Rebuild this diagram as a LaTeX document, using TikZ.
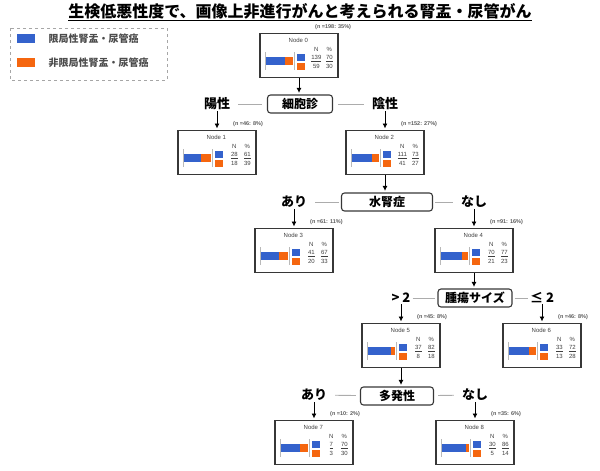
\documentclass[tikz,border=0pt]{standalone}
\usepackage{fontspec}
\setmainfont{Liberation Sans}
\newfontfamily\jp{Noto Sans CJK JP}
\usetikzlibrary{arrows.meta}
\definecolor{locblue}{RGB}{52,98,204}
\definecolor{advorange}{RGB}{245,102,15}
\definecolor{framegray}{RGB}{55,55,55}

\tikzset{
  leaf/.style={draw=framegray, line width=1.2pt, minimum width=78pt, minimum height=44pt, inner sep=0pt, anchor=north},
  split/.style={draw=framegray, line width=1.1pt, rounded corners=3pt, minimum height=18pt, inner sep=2pt,
    font=\jp\bfseries\fontsize{12}{14}\selectfont},
  answer/.style={font=\jp\bfseries\fontsize{13}{15}\selectfont, inner sep=1pt},
  tiny/.style={font=\fontsize{6}{7}\selectfont, text=black!75, inner sep=0pt},
  nlabel/.style={font=\bfseries\fontsize{5.5}{6}\selectfont, text=black!65, inner sep=0pt},
  link/.style={draw=gray!65, line width=0.9pt},
  down/.style={-{Latex[length=5pt,width=5pt]}, line width=0.9pt, shorten >=1.5pt},
  legtext/.style={font=\jp\bfseries\fontsize{10}{12}\selectfont, text=black!70, anchor=west}
}

% #1 name, #2 top centre, #3 number, #4 n label, #5/#6 first row, #7/#8 second row
\newcommand\leafnode[8]{%
  \node[leaf] (#1) at #2 {};
  \begin{scope}[shift={(#1.north west)}]
    \node[tiny] at (39,7) {Node #3};
    \draw[gray!55, line width=0.4pt] (6,19) -- (6,37) (35,19) -- (35,37);
    \fill[locblue] (7,24) rectangle ({7+0.27*#6},32);
    \fill[advorange] ({7+0.27*#6},24) rectangle (34,32);
    \fill[locblue] (38,21) rectangle (46,28);
    \fill[advorange] (38,30) rectangle (46,37);
    \node[tiny] at (57,16) {N};
    \node[tiny] at (70,16) {\%};
    \node[tiny] at (57,25.5) {\underline{#5}};
    \node[tiny] at (70,25.5) {\underline{#6}};
    \node[tiny] at (57,33.5) {#7};
    \node[tiny] at (70,33.5) {#8};
  \end{scope}
  \node[nlabel, anchor=south west] at ([shift={(16,-3)}]#1.north) {(n =#4)};
}

\begin{document}
\begin{tikzpicture}[x=1pt, y=-1pt]
  \useasboundingbox (0,0) rectangle (600,471);

  \node[font=\jp\bfseries\fontsize{16}{18}\selectfont] (title) at (300,12)
    {\underline{生検低悪性度で、画像上非進行がんと考えられる腎盂・尿管がん}};

  % legend
  \draw[gray!70, dashed, line width=0.8pt] (10,28) rectangle (167,80);
  \fill[locblue] (17,34) rectangle (35,43);
  \fill[advorange] (17,58) rectangle (35,67);
  \node[legtext] (legloc) at (45,38.5) {限局性腎盂・尿管癌};
  \node[legtext] (legadv) at (45,62.5) {非限局性腎盂・尿管癌};

  % root
  \leafnode{n0}{(299,33)}{0}{198: 35\%}{139}{70}{59}{30}
  \node[split, minimum width=65pt] (cyto) at (300,104) {細胞診};
  \node[answer] (pos) at (217,104) {陽性};
  \node[answer] (neg) at (385,104) {陰性};
  \draw[down] (n0.south) -- (n0.south |- cyto.north);
  \draw[link, shorten <=7pt, shorten >=5pt] (pos) -- (cyto);
  \draw[link, shorten <=5pt, shorten >=7pt] (cyto) -- (neg);

  \leafnode{n1}{(217,130)}{1}{46: 8\%}{28}{61}{18}{39}
  \leafnode{n2}{(385,130)}{2}{152: 27\%}{111}{73}{41}{27}
  \draw[down] (pos.south) -- (n1.north);
  \draw[down] (neg.south) -- (n2.north);

  % hydronephrosis
  \node[split, minimum width=91pt] (hydro) at (387,202) {水腎症};
  \node[answer] (yes2) at (294,202) {あり};
  \node[answer] (no2) at (474,202) {なし};
  \draw[down] (n2.south) -- (n2.south |- hydro.north);
  \draw[link, shorten <=7pt, shorten >=2pt] (yes2) -- (hydro);
  \draw[link, shorten <=2pt, shorten >=7pt] (hydro) -- (no2);

  \leafnode{n3}{(294,228)}{3}{61: 11\%}{41}{67}{20}{33}
  \leafnode{n4}{(474,228)}{4}{91: 16\%}{70}{77}{21}{23}
  \draw[down] (yes2.south) -- (n3.north);
  \draw[down] (no2.south) -- (n4.north);

  % tumour size
  \node[split, minimum width=74pt] (size) at (475,298) {腫瘍サイズ};
  \node[answer] (gt) at (401,298) {> 2};
  \node[answer] (le) at (542,298) {≤ 2};
  \draw[down] (n4.south) -- (n4.south |- size.north);
  \draw[link, shorten <=1pt, shorten >=2pt] (gt) -- (size);
  \draw[link, shorten <=2pt, shorten >=1pt] (size) -- (le);

  \leafnode{n5}{(401,323)}{5}{45: 8\%}{37}{82}{8}{18}
  \leafnode{n6}{(542,323)}{6}{46: 8\%}{33}{72}{13}{28}
  \draw[down] (gt.south) -- (n5.north);
  \draw[down] (le.south) -- (n6.north);

  % multifocality
  \node[split, minimum width=73pt] (multi) at (397,396) {多発性};
  \node[answer] (yes3) at (314,395) {あり};
  \node[answer] (no3) at (475,395) {なし};
  \draw[down] (n5.south) -- (n5.south |- multi.north);
  \draw[link, shorten <=7pt, shorten >=4pt] (yes3) -- (multi);
  \draw[link, shorten <=4pt, shorten >=7pt] (multi) -- (no3);

  \leafnode{n7}{(314,420)}{7}{10: 2\%}{7}{70}{3}{30}
  \leafnode{n8}{(475,420)}{8}{35: 6\%}{30}{86}{5}{14}
  \draw[down] (yes3.south) -- (n7.north);
  \draw[down] (no3.south) -- (n8.north);
\end{tikzpicture}
\end{document}
